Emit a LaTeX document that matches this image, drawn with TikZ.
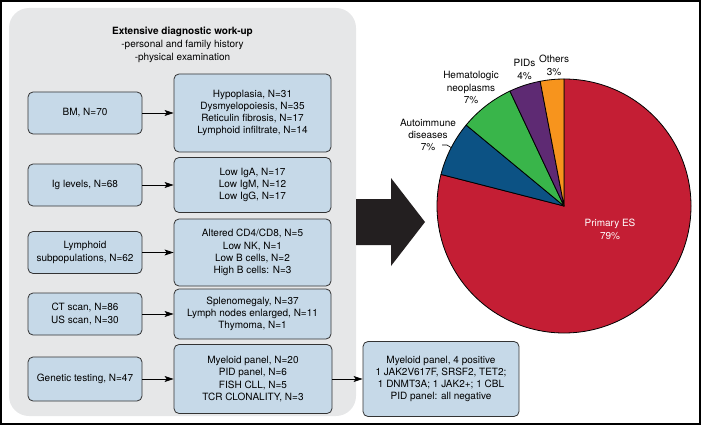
\documentclass[tikz,border=0pt]{standalone}
\usepackage{fontspec}
\setmainfont{TeX Gyre Heros}
\usetikzlibrary{arrows.meta}
\definecolor{panelgray}{RGB}{230,231,232}
\definecolor{boxblue}{RGB}{198,217,232}
\definecolor{boxline}{RGB}{51,51,51}
\definecolor{pieRed}{RGB}{196,30,52}
\definecolor{pieBlue}{RGB}{12,82,132}
\definecolor{pieGreen}{RGB}{57,181,74}
\definecolor{piePurple}{RGB}{94,42,115}
\definecolor{pieOrange}{RGB}{247,148,29}
\definecolor{bigarrow}{RGB}{35,31,32}
\tikzset{
  box/.style={draw=boxline, fill=boxblue, line width=0.8pt, rounded corners=5pt,
    align=center, inner sep=2pt, font=\fontsize{10}{12.2}\selectfont},
  conn/.style={draw=black, line width=0.8pt, -{Stealth[length=9pt,width=6pt,inset=2pt]}},
  lbl/.style={align=center, inner sep=0pt, font=\fontsize{10}{12.4}\selectfont},
  slice/.style={draw=black, line width=0.8pt, line join=round}
}
\begin{document}
\begin{tikzpicture}[x=1pt,y=-1pt]
\useasboundingbox (0,0) rectangle (701,425);
% outer frame
\draw[line width=1.5pt] (1,1) rectangle (700,424);
% gray panel
\fill[panelgray, rounded corners=20pt] (9,8) rectangle (356,416);
% title
\node[lbl, font=\fontsize{10}{12}\selectfont\bfseries] (title) at (182.5,32) {Extensive diagnostic work-up};
\node[lbl] (sub) at (182.5,51.5) {-personal and family history\\-physical examination};
% left boxes
\node[box, minimum width=114pt, minimum height=42pt] (bm) at (85,113) {BM, N=70};
\node[box, minimum width=114pt, minimum height=42pt] (ig) at (85,185) {Ig levels, N=68};
\node[box, minimum width=114pt, minimum height=42pt] (lym) at (85,252.5) {Lymphoid\\subpopulations, N=62};
\node[box, minimum width=114pt, minimum height=42pt] (ct) at (85,314) {CT scan, N=86\\US scan, N=30};
\node[box, minimum width=114pt, minimum height=44pt] (gen) at (85,379) {Genetic testing, N=47};
% right boxes
\node[box, minimum width=157pt, minimum height=78pt] (hyp) at (252.5,113) {Hypoplasia, N=31\\Dysmyelopoiesis, N=35\\Reticulin fibrosis, N=17\\Lymphoid infiltrate, N=14};
\node[box, minimum width=157pt, minimum height=55pt] (iga) at (252.5,185) {Low IgA, N=17\\Low IgM, N=12\\Low IgG, N=17};
\node[box, minimum width=157pt, minimum height=67pt] (cd) at (252.5,252.5) {Altered CD4/CD8, N=5\\Low NK, N=1\\Low B cells, N=2\\High B cells: N=3};
\node[box, minimum width=157pt, minimum height=50pt] (spl) at (252.5,314) {Splenomegaly, N=37\\Lymph nodes enlarged, N=11\\Thymoma, N=1};
\node[box, minimum width=158pt, minimum height=69pt] (mye) at (253,379) {Myeloid panel, N=20\\PID panel, N=6\\FISH CLL, N=5\\TCR CLONALITY, N=3};
\node[box, minimum width=156pt, minimum height=75pt] (fin) at (441,379) {Myeloid panel, 4 positive\\1 JAK2V617F, SRSF2, TET2;\\1 DNMT3A; 1 JAK2+; 1 CBL\\PID panel: all negative};
% connectors
\draw[conn] (bm.east) -- (hyp.west);
\draw[conn] (ig.east) -- (iga.west);
\draw[conn] (lym.east) -- (cd.west);
\draw[conn] (ct.east) -- (spl.west);
\draw[conn] (gen.east) -- (mye.west);
\draw[conn] (mye.east) -- (fin.west);
% big arrow
\fill[bigarrow] (356,199) -- (391,199) -- (391,178) -- (425,222) -- (391,266) -- (391,245) -- (356,245) -- cycle;
% pie
\begin{scope}[shift={(564,206)}, x=1pt, y=1pt]
\filldraw[slice, fill=pieRed] (0,0) -- (90:127) arc[start angle=90, end angle=-194.4, radius=127pt] -- cycle;
\filldraw[slice, fill=pieBlue] (0,0) -- (165.6:127) arc[start angle=165.6, end angle=140.4, radius=127pt] -- cycle;
\filldraw[slice, fill=pieGreen] (0,0) -- (140.4:127) arc[start angle=140.4, end angle=115.2, radius=127pt] -- cycle;
\filldraw[slice, fill=piePurple] (0,0) -- (115.2:127) arc[start angle=115.2, end angle=100.8, radius=127pt] -- cycle;
\filldraw[slice, fill=pieOrange] (0,0) -- (100.8:127) arc[start angle=100.8, end angle=90, radius=127pt] -- cycle;
\end{scope}
% pie labels
\node[lbl] (oth) at (554,65.5) {Others\\3\%};
\node[lbl] (pid) at (524.5,69.5) {PIDs\\4\%};
\node[lbl] (hem) at (471,87.5) {Hematologic\\neoplasms\\7\%};
\node[lbl] (aut) at (428,135) {Autoimmune\\diseases\\7\%};
\draw[line width=0.6pt] (442,145) -- (447,145) -- (451,147.5);
\node[lbl, text=white] (pes) at (610,229.5) {Primary ES\\79\%};
\end{tikzpicture}
\end{document}
